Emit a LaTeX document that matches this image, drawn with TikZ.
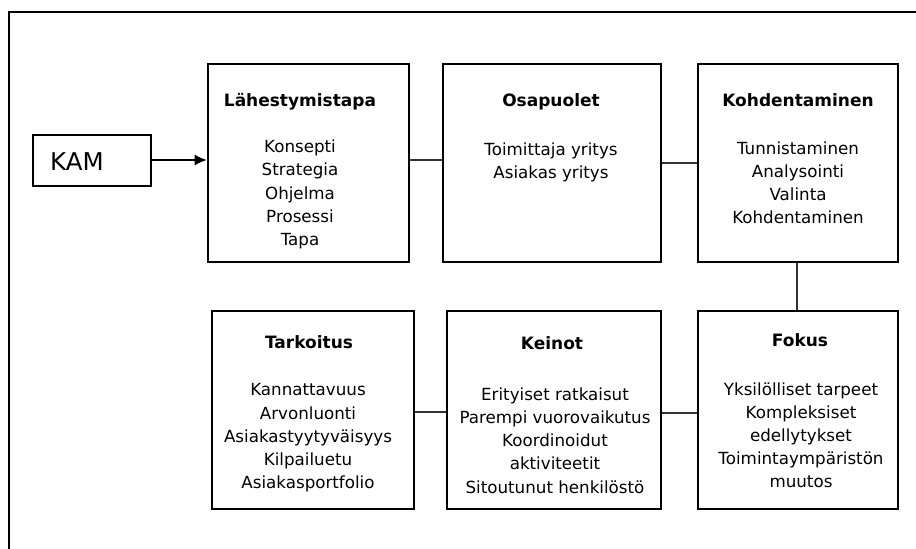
\documentclass[tikz,border=0pt]{standalone}
\usepackage{fontspec}
\setmainfont{DejaVu Sans}
\usetikzlibrary{arrows.meta}

\begin{document}
\begin{tikzpicture}[x=1pt, y=-1pt,
  box/.style={draw, line width=2.7pt, inner sep=0pt, minimum height=198pt},
  heading/.style={anchor=base, inner sep=0pt, font=\fontsize{17}{20}\selectfont\bfseries},
  items/.style={anchor=north, inner sep=0pt, align=center,
                font=\fontsize{16.7}{23.2}\selectfont},
  link/.style={draw, line width=1.3pt, color=black!80}
]
\useasboundingbox (0,0) rectangle (916,549);

% outer frame
\draw[line width=2.1pt] (9,549) -- (9,12) -- (916,12);

% KAM start box
\node[draw, line width=1.6pt, minimum width=118pt, minimum height=51pt, inner sep=0pt]
  (kam) at (92,160.5) {};
\node[anchor=base west, inner sep=0pt, font=\fontsize{24.5}{28}\selectfont]
  (kamtext) at (50,170.5) {KAM};

% upper row
\node[box, minimum width=201pt] (lah) at (308.5,163) {};
\node[box, minimum width=218pt] (osa) at (552,163) {};
\node[box, minimum width=200pt] (koh) at (798,163) {};

% lower row
\node[box, minimum width=202pt] (tar) at (313,410) {};
\node[box, minimum width=214pt] (kei) at (554,410) {};
\node[box, minimum width=200pt] (fok) at (798,410) {};

% headings
\node[heading] (lahh) at (300,106.5) {Lähestymistapa};
\node[heading] (osah) at (551,106) {Osapuolet};
\node[heading] (kohh) at (798,106) {Kohdentaminen};
\node[heading] (tarh) at (309,348.3) {Tarkoitus};
\node[heading] (keih) at (552,349.5) {Keinot};
\node[heading] (fokh) at (800,346.7) {Fokus};

% item lists
\node[items] (lahi) at (300,139.8)
  {Konsepti\\Strategia\\Ohjelma\\Prosessi\\Tapa};
\node[items] (osai) at (551,142.5)
  {Toimittaja yritys\\Asiakas yritys};
\node[items] (kohi) at (798,141.5)
  {Tunnistaminen\\Analysointi\\Valinta\\Kohdentaminen};
\node[items] (tari) at (308,383.5)
  {Kannattavuus\\Arvonluonti\\Asiakastyytyväisyys\\Kilpailuetu\\Asiakasportfolio};
\node[items] (keii) at (555,387.5)
  {Erityiset ratkaisut\\Parempi vuorovaikutus\\Koordinoidut\\aktiviteetit\\Sitoutunut henkilöstö};
\node[items] (foki) at (801,382.2)
  {Yksilölliset tarpeet\\Kompleksiset\\edellytykset\\Toimintaympäristön\\muutos};

% connectors
\draw[line width=1.2pt, -{Latex[length=12pt, width=11pt]}] ([yshift=0.5pt]kam.east) -- ([yshift=0.5pt]kam.east -| lah.west);
\path[link] ([yshift=3pt]lah.east) -- ([yshift=3pt]osa.west);
\path[link] (osa.east) -- (koh.west);
\path[link] ([xshift=-1pt]koh.south) -- ([xshift=-1pt]fok.north);
\path[link] ([yshift=-2pt]tar.east) -- ([yshift=-2pt]kei.west);
\path[link] ([yshift=-3pt]kei.east) -- ([yshift=-3pt]fok.west);
\end{tikzpicture}
\end{document}
